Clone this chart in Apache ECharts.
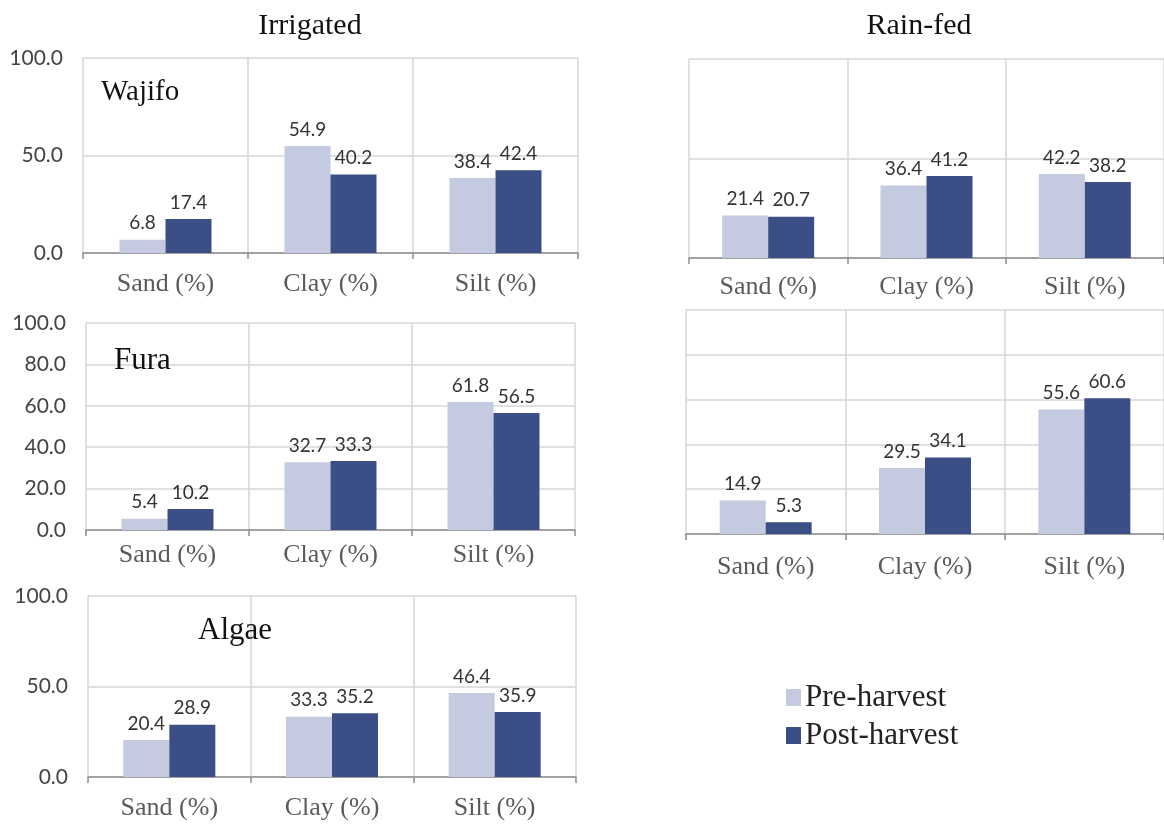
<!DOCTYPE html>
<html>
<head>
<meta charset="utf-8">
<script src="https://cdn.jsdelivr.net/npm/echarts@6/dist/echarts.min.js"></script>
<style>
html,body{margin:0;padding:0;background:#fff;}
#chart{width:1164px;height:824px;}
</style>
</head>
<body>
<div id="chart"></div>
<script>
// ---- Data ----
const categories = ['Sand (%)', 'Clay (%)', 'Silt (%)'];
const seriesNames = ['Pre-harvest', 'Post-harvest'];

const irrWajifoPre  = [6.8, 54.9, 38.4];
const irrWajifoPost = [17.4, 40.2, 42.4];
const irrFuraPre    = [5.4, 32.7, 61.8];
const irrFuraPost   = [10.2, 33.3, 56.5];
const irrAlgaePre   = [20.4, 33.3, 46.4];
const irrAlgaePost  = [28.9, 35.2, 35.9];
const rainTopPre    = [21.4, 36.4, 42.2];
const rainTopPost   = [20.7, 41.2, 38.2];
const rainBotPre    = [14.9, 29.5, 55.6];
const rainBotPost   = [5.3, 34.1, 60.6];

const headers = ['Irrigated', 'Rain-fed'];
const panelTitles = ['Wajifo', 'Fura', 'Algae'];

// ---- Layout ----
const panels = [
  {grid:{left:83, top:58, width:495, height:195}, interval:50, showY:true, labelMargin:18, pre:irrWajifoPre, post:irrWajifoPost},
  {grid:{left:86, top:323, width:489, height:207}, interval:20, showY:true, labelMargin:12, pre:irrFuraPre, post:irrFuraPost},
  {grid:{left:88, top:596, width:488, height:181}, interval:50, showY:true, labelMargin:18, pre:irrAlgaePre, post:irrAlgaePost},
  {grid:{left:689, top:59, width:477, height:199}, interval:50, showY:false, labelMargin:16, pre:rainTopPre, post:rainTopPost},
  {grid:{left:686, top:310, width:486, height:224}, interval:20, showY:false, labelMargin:20, pre:rainBotPre, post:rainBotPost}
];

const PRE_COLOR = '#c4cadf';
const POST_COLOR = '#3c4e86';
const GRID_COLOR = '#d6d6d6';
const AXIS_COLOR = '#8c8c8c';

const grids = [], xAxes = [], yAxes = [], series = [];
panels.forEach((p, i) => {
  grids.push(Object.assign({containLabel:false}, p.grid));
  xAxes.push({
    type:'category', gridIndex:i, data:categories, boundaryGap:true,
    axisLine:{show:true, lineStyle:{color:AXIS_COLOR, width:1.5}},
    axisTick:{show:true, length:6, interval:0, lineStyle:{color:AXIS_COLOR, width:1.5}},
    axisLabel:{show:true, interval:0, margin:p.labelMargin, fontFamily:'Liberation Serif', fontSize:26, color:'#5a5a5a'},
    splitLine:{show:true, interval:0, lineStyle:{color:GRID_COLOR, width:1.5}}
  });
  yAxes.push({
    type:'value', gridIndex:i, min:0, max:100, interval:p.interval,
    axisLine:{show:false}, axisTick:{show:false},
    axisLabel:{show:p.showY, margin:20, fontFamily:'Lato', fontSize:21, color:'#444',
      formatter:v => v.toFixed(1)},
    splitLine:{show:true, lineStyle:{color:GRID_COLOR, width:1.5}}
  });
  [p.pre, p.post].forEach((vals, k) => {
    series.push({
      name:seriesNames[k], type:'bar', xAxisIndex:i, yAxisIndex:i,
      data:vals, barWidth:46, barGap:'0%',
      itemStyle:{color:k === 0 ? PRE_COLOR : POST_COLOR},
      label:{show:true, position:'top', distance:7, fontFamily:'Lato', fontSize:19, color:'#333',
        formatter:o => o.value.toFixed(1)},
      emphasis:{disabled:true}
    });
  });
});

const titleFont = {fontFamily:'Liberation Serif', fontSize:30, fontWeight:'normal', color:'#111'};
const titles = [
  {text:headers[0], left:305, top:6, textAlign:'center', textStyle:titleFont},
  {text:headers[1], left:914, top:6, textAlign:'center', textStyle:titleFont},
  {text:panelTitles[0], left:96, top:73, textStyle:Object.assign({}, titleFont, {fontSize:29})},
  {text:panelTitles[1], left:109, top:340, textStyle:Object.assign({}, titleFont, {fontSize:31})},
  {text:panelTitles[2], left:193, top:610, textStyle:Object.assign({}, titleFont, {fontSize:31})}
];

const chart = echarts.init(document.getElementById('chart'), null, {renderer:'canvas'});
chart.setOption({
  backgroundColor:'#fff',
  animation:false,
  title:titles,
  legend:{
    data:seriesNames, orient:'vertical', left:781, top:677,
    icon:'rect', itemWidth:15, itemHeight:17, itemGap:7,
    textStyle:{fontFamily:'Liberation Serif', fontSize:31, color:'#222', padding:[0,0,0,-1]}
  },
  grid:grids, xAxis:xAxes, yAxis:yAxes, series:series
});
</script>
</body>
</html>
